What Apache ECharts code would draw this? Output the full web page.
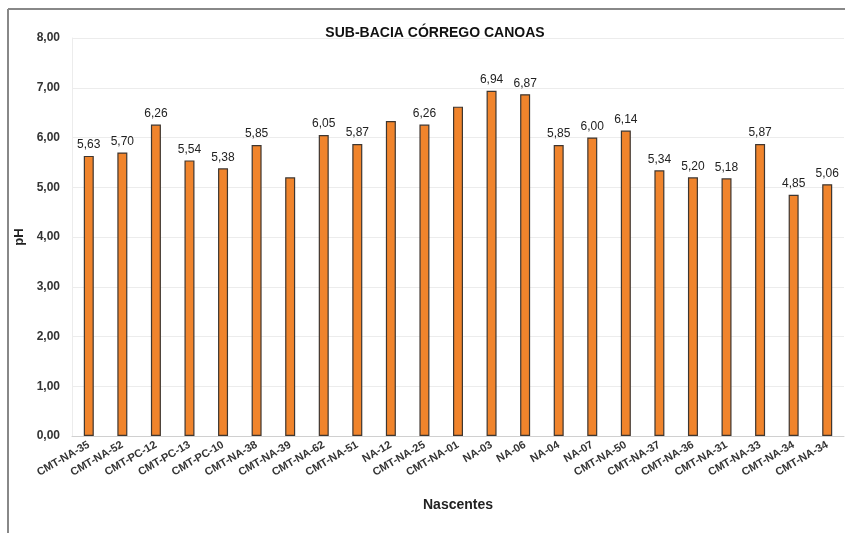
<!DOCTYPE html>
<html>
<head>
<meta charset="utf-8">
<script src="https://cdn.jsdelivr.net/npm/echarts@6/dist/echarts.min.js"></script>
<style>
html, body { margin: 0; padding: 0; background: #fff; }
#chart { width: 845px; height: 533px; }
</style>
</head>
<body>
<div id="chart"></div>
<script>
// nascentes da sub-bacia
var categories = ['CMT-NA-35', 'CMT-NA-52', 'CMT-PC-12', 'CMT-PC-13', 'CMT-PC-10', 'CMT-NA-38',
    'CMT-NA-39', 'CMT-NA-62', 'CMT-NA-51', 'NA-12', 'CMT-NA-25', 'CMT-NA-01', 'NA-03', 'NA-06',
    'NA-04', 'NA-07', 'CMT-NA-50', 'CMT-NA-37', 'CMT-NA-36', 'CMT-NA-31', 'CMT-NA-33', 'CMT-NA-34', 'CMT-NA-34'];
var phValues = [5.63, 5.70, 6.26, 5.54, 5.38, 5.85, 5.20, 6.05, 5.87, 6.33, 6.26, 6.62, 6.94, 6.87,
    5.85, 6.00, 6.14, 5.34, 5.20, 5.18, 5.87, 4.85, 5.06];
// bars whose value label is not shown in the original
var hiddenLabels = ['CMT-NA-39', 'NA-12', 'CMT-NA-01'];

var fmt = function (v) { return v.toFixed(2).replace('.', ','); };

var chart = echarts.init(document.getElementById('chart'));
var seriesData = phValues.map(function (v, i) {
    var item = { value: v };
    if (hiddenLabels.indexOf(categories[i]) >= 0) {
        item.label = { show: false };
    }
    return item;
});

chart.setOption({
    animation: false,
    backgroundColor: '#fff',
    title: {
        text: 'SUB-BACIA CÓRREGO CANOAS',
        left: 430, top: 21, textAlign: 'center',
        textStyle: { fontFamily: 'Liberation Sans', fontSize: 14, fontWeight: 'bold', color: '#111' }
    },
    graphic: [
        { type: 'line', shape: { x1: 8, y1: 9, x2: 845, y2: 9 }, style: { stroke: '#888', lineWidth: 2 } },
        { type: 'line', shape: { x1: 8, y1: 9, x2: 8, y2: 533 }, style: { stroke: '#888', lineWidth: 2 } }
    ],
    grid: { left: 72, right: 1, top: 38, bottom: 97 },
    xAxis: {
        type: 'category',
        data: categories,
        name: 'Nascentes',
        nameLocation: 'middle',
        nameGap: 62,
        nameTextStyle: { fontFamily: 'Liberation Sans', fontSize: 14, fontWeight: 'bold', color: '#222' },
        axisLine: { lineStyle: { color: '#d0d0d0' } },
        axisTick: { show: false },
        axisLabel: {
            interval: 0, rotate: 30, margin: 8,
            fontFamily: 'Liberation Sans', fontSize: 11, fontWeight: 'bold', color: '#333'
        }
    },
    yAxis: {
        type: 'value',
        min: 0, max: 8, interval: 1,
        name: 'pH',
        nameLocation: 'middle',
        nameGap: 46,
        nameTextStyle: { fontFamily: 'Liberation Sans', fontSize: 13, fontWeight: 'bold', color: '#222' },
        axisLine: { show: true, lineStyle: { color: '#ececec' } },
        splitLine: { lineStyle: { color: '#ececec' } },
        axisLabel: {
            formatter: fmt, margin: 12,
            fontFamily: 'Liberation Sans', fontSize: 12, fontWeight: 'bold', color: '#333'
        }
    },
    series: [{
        type: 'bar',
        data: seriesData,
        barWidth: 10,
        itemStyle: { color: '#f0842c', borderColor: '#3e3630', borderWidth: 1.2 },
        label: {
            show: true, position: 'top', distance: 5,
            formatter: function (p) { return fmt(p.value); },
            fontFamily: 'Liberation Sans', fontSize: 12, color: '#222'
        }
    }]
});
</script>
</body>
</html>
